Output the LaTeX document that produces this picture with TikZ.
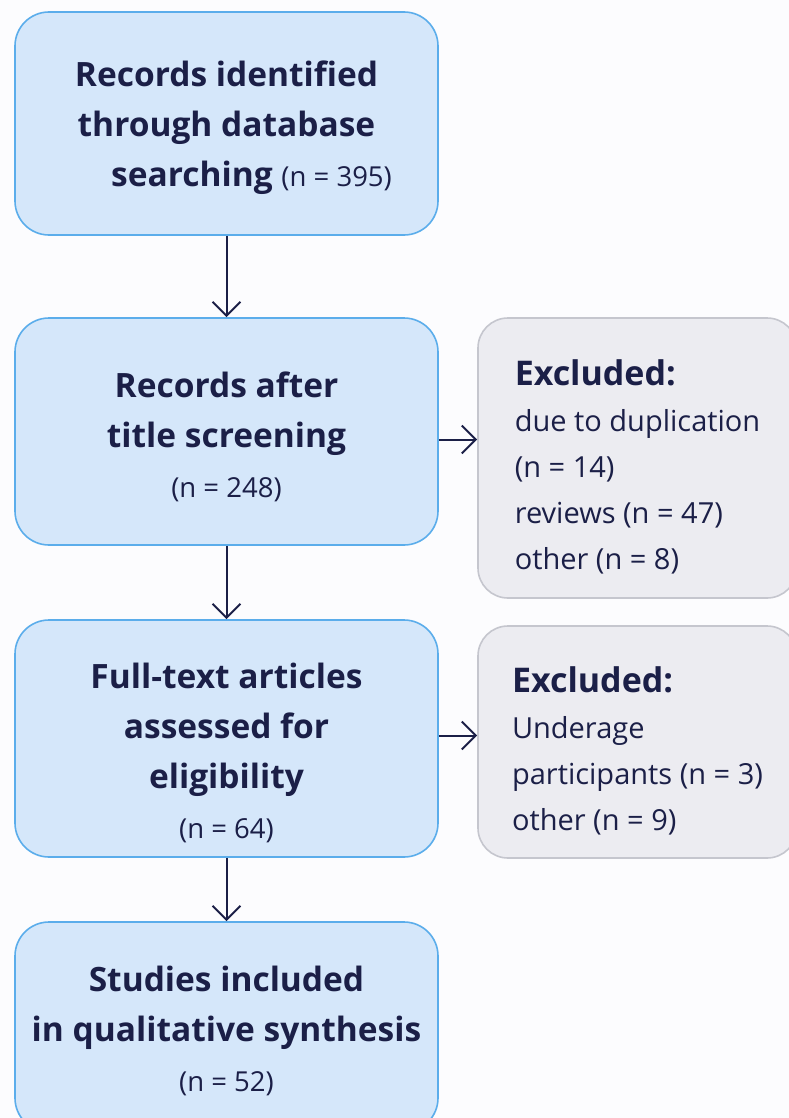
\documentclass[tikz,border=0pt]{standalone}
\usepackage{fontspec}
\setmainfont{Open Sans}
\usetikzlibrary{arrows.meta,positioning}
\definecolor{navy}{HTML}{1B1F47}
\definecolor{bluefill}{HTML}{D5E7FA}
\definecolor{blueline}{HTML}{5BADEB}
\definecolor{grayfill}{HTML}{ECECF1}
\definecolor{grayline}{HTML}{C5C6CE}
\definecolor{bg}{HTML}{FCFCFE}
\tikzset{
  mainbox/.style={draw=blueline, fill=bluefill, line width=1.6pt, rounded corners=34pt,
    minimum width=423pt, inner sep=0pt},
  maintext/.style={inner sep=0pt, align=center, text=navy,
    font=\fontsize{33.5}{50}\selectfont\bfseries},
  exbox/.style={draw=grayline, fill=grayfill, line width=1.6pt, rounded corners=30pt,
    minimum width=319pt, inner sep=0pt},
  extext/.style={inner sep=0pt, align=left, text=navy,
    font=\fontsize{29}{46}\selectfont},
  flow/.style={draw=navy, line width=2pt, -{Straight Barb[length=14pt,width=28pt,line width=2pt]}}
}
\newcommand{\nn}[1]{{\fontsize{27.5}{40}\selectfont\mdseries #1}}
\newcommand{\exh}[1]{{\fontsize{34}{46}\selectfont\bfseries #1}}
\begin{document}
\begin{tikzpicture}[x=1pt,y=1pt]
\fill[bg] (0,0) rectangle (789,-1118);
\useasboundingbox (0,0) rectangle (789,-1118);
\node[mainbox, minimum height=223pt] (b1) at (226.5,-123.5) {};
\node[mainbox, minimum height=227pt] (b2) at (226.5,-431.5) {};
\node[mainbox, minimum height=237pt] (b3) at (226.5,-738.5) {};
\node[mainbox, minimum height=210pt] (b4) at (226.5,-1027) {};
\node[exbox, minimum height=280pt] (e1) at (637.5,-458) {};
\node[exbox, minimum height=232pt] (e2) at (637.5,-742) {};
\node[maintext] (t1) at ([yshift=-4pt]b1.center)
  {Records identified\\through database\\\hspace*{50pt}searching \nn{(n = 395)}};
\node[maintext] (t2) at ([yshift=-5pt]b2.center)
  {Records after\\title screening\\\nn{(n = 248)}};
\node[maintext] (t3) at ([yshift=-14pt]b3.center)
  {Full-text articles\\assessed for\\eligibility\\\nn{(n = 64)}};
\node[maintext] (t4) at ([yshift=-4pt]b4.center)
  {Studies included\\in qualitative synthesis\\\nn{(n = 52)}};
\node[extext] (x1) at ([yshift=-9pt]e1.center)
  {\exh{Excluded:}\\due to duplication\\(n = 14)\\reviews (n = 47)\\other (n = 8)};
\node[extext] (x2) at ([yshift=-9pt]e2.center)
  {\exh{Excluded:}\\Underage\\participants (n = 3)\\other (n = 9)};
\draw[flow] (b1.south) -- (b2.north);
\draw[flow] (b2.south) -- (b3.north);
\draw[flow] (b3.south) -- (b4.north);
\draw[flow] ([yshift=-8pt]b2.east) -- ([yshift=-8pt]b2.east -| e1.west);
\draw[flow] ([yshift=3pt]b3.east) -- ([yshift=3pt]b3.east -| e2.west);
\end{tikzpicture}
\end{document}
